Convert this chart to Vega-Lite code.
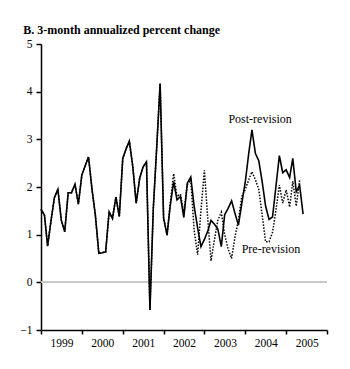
{
 "$schema": "https://vega.github.io/schema/vega-lite/v6.json",
 "width": 286,
 "height": 286,
 "autosize": {"type": "none"},
 "padding": {"left": 41, "top": 44, "right": 23, "bottom": 39},
 "background": "white",
 "title": {"text": "B. 3-month annualized percent change", "anchor": "start", "frame": "group", "dx": -17.7, "dy": 3, "font": "Liberation Serif", "fontSize": 12, "fontWeight": "bold", "color": "black"},
 "config": {
  "view": {"stroke": null},
  "axis": {"labelFont": "Liberation Serif", "labelFontSize": 11.5, "labelColor": "black", "domainColor": "black", "tickColor": "black", "domainWidth": 1.5, "tickWidth": 1.5, "grid": false, "labelFlush": false, "labelOverlap": false}
 },
 "data": {"values": [
  {"date": "1999-01-01", "post": 1.53, "pre": 1.53},
  {"date": "1999-02-01", "post": 1.41, "pre": 1.41},
  {"date": "1999-03-01", "post": 0.76, "pre": 0.76},
  {"date": "1999-04-01", "post": 1.3, "pre": 1.3},
  {"date": "1999-05-01", "post": 1.78, "pre": 1.78},
  {"date": "1999-06-01", "post": 1.95, "pre": 1.95},
  {"date": "1999-07-01", "post": 1.31, "pre": 1.31},
  {"date": "1999-08-01", "post": 1.06, "pre": 1.06},
  {"date": "1999-09-01", "post": 1.88, "pre": 1.88},
  {"date": "1999-10-01", "post": 1.88, "pre": 1.88},
  {"date": "1999-11-01", "post": 2.06, "pre": 2.06},
  {"date": "1999-12-01", "post": 1.64, "pre": 1.64},
  {"date": "2000-01-01", "post": 2.25, "pre": 2.25},
  {"date": "2000-02-01", "post": 2.45, "pre": 2.45},
  {"date": "2000-03-01", "post": 2.63, "pre": 2.63},
  {"date": "2000-04-01", "post": 1.95, "pre": 1.95},
  {"date": "2000-05-01", "post": 1.41, "pre": 1.41},
  {"date": "2000-06-01", "post": 0.61, "pre": 0.61},
  {"date": "2000-07-01", "post": 0.62, "pre": 0.62},
  {"date": "2000-08-01", "post": 0.64, "pre": 0.64},
  {"date": "2000-09-01", "post": 1.48, "pre": 1.48},
  {"date": "2000-10-01", "post": 1.34, "pre": 1.34},
  {"date": "2000-11-01", "post": 1.79, "pre": 1.79},
  {"date": "2000-12-01", "post": 1.38, "pre": 1.38},
  {"date": "2001-01-01", "post": 2.6, "pre": 2.6},
  {"date": "2001-02-01", "post": 2.81, "pre": 2.81},
  {"date": "2001-03-01", "post": 2.96, "pre": 2.96},
  {"date": "2001-04-01", "post": 2.42, "pre": 2.42},
  {"date": "2001-05-01", "post": 1.66, "pre": 1.66},
  {"date": "2001-06-01", "post": 2.18, "pre": 2.18},
  {"date": "2001-07-01", "post": 2.42, "pre": 2.42},
  {"date": "2001-08-01", "post": 2.53, "pre": 2.53},
  {"date": "2001-09-01", "post": -0.58, "pre": -0.58},
  {"date": "2001-10-01", "post": 1.55, "pre": 1.55},
  {"date": "2001-11-01", "post": 2.85, "pre": 2.85},
  {"date": "2001-12-01", "post": 4.17, "pre": 4.17},
  {"date": "2002-01-01", "post": 1.35, "pre": 1.35},
  {"date": "2002-02-01", "post": 0.99, "pre": 0.99},
  {"date": "2002-03-01", "post": 1.6, "pre": 1.65},
  {"date": "2002-04-01", "post": 2.11, "pre": 2.28},
  {"date": "2002-05-01", "post": 1.73, "pre": 1.8},
  {"date": "2002-06-01", "post": 1.8, "pre": 1.85},
  {"date": "2002-07-01", "post": 1.36, "pre": 1.45},
  {"date": "2002-08-01", "post": 2.08, "pre": 2.05},
  {"date": "2002-09-01", "post": 2.21, "pre": 2.15},
  {"date": "2002-10-01", "post": 1.6, "pre": 1.1},
  {"date": "2002-11-01", "post": 1.15, "pre": 0.58},
  {"date": "2002-12-01", "post": 0.75, "pre": 1.5},
  {"date": "2003-01-01", "post": 0.9, "pre": 2.35},
  {"date": "2003-02-01", "post": 1.08, "pre": 1.3},
  {"date": "2003-03-01", "post": 1.3, "pre": 0.45},
  {"date": "2003-04-01", "post": 1.22, "pre": 0.9},
  {"date": "2003-05-01", "post": 1.12, "pre": 1.3},
  {"date": "2003-06-01", "post": 0.75, "pre": 1.47},
  {"date": "2003-07-01", "post": 1.42, "pre": 1.0},
  {"date": "2003-08-01", "post": 1.55, "pre": 0.7},
  {"date": "2003-09-01", "post": 1.71, "pre": 0.5},
  {"date": "2003-10-01", "post": 1.45, "pre": 0.95},
  {"date": "2003-11-01", "post": 1.2, "pre": 1.3},
  {"date": "2003-12-01", "post": 1.65, "pre": 1.8},
  {"date": "2004-01-01", "post": 2.1, "pre": 1.95},
  {"date": "2004-02-01", "post": 2.7, "pre": 2.15},
  {"date": "2004-03-01", "post": 3.2, "pre": 2.32},
  {"date": "2004-04-01", "post": 2.7, "pre": 2.15},
  {"date": "2004-05-01", "post": 2.55, "pre": 1.95},
  {"date": "2004-06-01", "post": 2.1, "pre": 1.4},
  {"date": "2004-07-01", "post": 1.6, "pre": 0.85},
  {"date": "2004-08-01", "post": 1.32, "pre": 0.85},
  {"date": "2004-09-01", "post": 1.37, "pre": 1.05},
  {"date": "2004-10-01", "post": 2.0, "pre": 1.5},
  {"date": "2004-11-01", "post": 2.66, "pre": 2.04},
  {"date": "2004-12-01", "post": 2.3, "pre": 1.66},
  {"date": "2005-01-01", "post": 2.36, "pre": 1.94},
  {"date": "2005-02-01", "post": 2.2, "pre": 1.58},
  {"date": "2005-03-01", "post": 2.6, "pre": 2.12},
  {"date": "2005-04-01", "post": 1.9, "pre": 1.6},
  {"date": "2005-05-01", "post": 2.04, "pre": 2.14},
  {"date": "2005-06-01", "post": 1.43, "pre": null}
 ]},
 "layer": [
  {
   "mark": {"type": "rule", "color": "#c8c8c8", "strokeWidth": 1},
   "encoding": {"y": {"datum": 0, "type": "quantitative", "title": null}}
  },
  {
   "mark": {"type": "line", "color": "black", "strokeWidth": 1.5, "strokeDash": [1.5, 1.5]},
   "encoding": {
    "x": {"field": "date", "type": "temporal", "title": null,
     "scale": {"type": "utc", "nice": false, "domain": [{"year": 1999, "month": 1, "date": 1, "utc": true}, {"year": 2006, "month": 1, "date": 1, "utc": true}]},
     "axis": {"values": [
       {"year": 1999, "month": 1, "date": 1, "utc": true},
       {"year": 2000, "month": 1, "date": 1, "utc": true},
       {"year": 2001, "month": 1, "date": 1, "utc": true},
       {"year": 2002, "month": 1, "date": 1, "utc": true},
       {"year": 2003, "month": 1, "date": 1, "utc": true},
       {"year": 2004, "month": 1, "date": 1, "utc": true},
       {"year": 2005, "month": 1, "date": 1, "utc": true},
       {"year": 2006, "month": 1, "date": 1, "utc": true}],
      "labelExpr": "utcyear(datum.value) < 2006 ? '' + utcyear(datum.value) : ''",
      "labelOffset": 20.5, "tickSize": 4, "labelPadding": 3}},
    "y": {"field": "pre", "type": "quantitative", "title": null,
     "scale": {"domain": [-1, 5], "nice": false, "zero": false},
     "axis": {"values": [-1, 0, 1, 2, 3, 4, 5], "tickSize": 5, "labelPadding": 4}}
   }
  },
  {
   "mark": {"type": "line", "color": "black", "strokeWidth": 1.6},
   "encoding": {
    "x": {"field": "date", "type": "temporal", "title": null},
    "y": {"field": "post", "type": "quantitative", "title": null}
   }
  },
  {
   "data": {"values": [{"label": "Post-revision"}]},
   "mark": {"type": "text", "font": "Liberation Serif", "fontSize": 12, "color": "black", "align": "center", "baseline": "middle"},
   "encoding": {
    "text": {"field": "label"},
    "x": {"datum": {"year": 2004, "month": 5, "date": 13, "utc": true}, "type": "temporal"},
    "y": {"datum": 3.42, "type": "quantitative"}
   }
  },
  {
   "data": {"values": [{"label": "Pre-revision"}]},
   "mark": {"type": "text", "font": "Liberation Serif", "fontSize": 12, "color": "black", "align": "center", "baseline": "middle"},
   "encoding": {
    "text": {"field": "label"},
    "x": {"datum": {"year": 2004, "month": 8, "date": 18, "utc": true}, "type": "temporal"},
    "y": {"datum": 0.7, "type": "quantitative"}
   }
  }
 ]
}
